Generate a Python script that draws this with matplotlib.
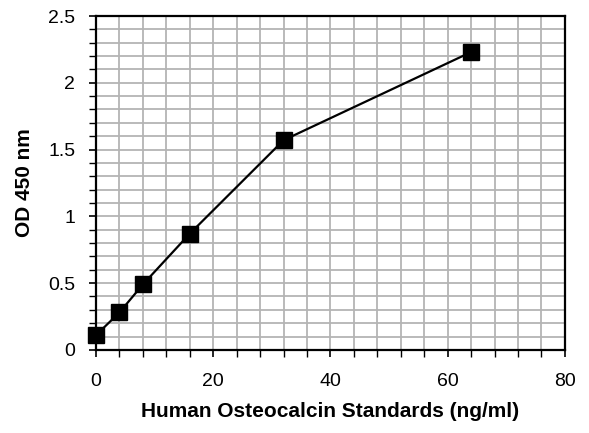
import matplotlib
matplotlib.use("Agg")
import matplotlib.pyplot as plt
from matplotlib.ticker import MultipleLocator, FuncFormatter

conc = [0, 4, 8, 16, 32, 64]
od = [0.11, 0.28, 0.49, 0.87, 1.57, 2.23]

plt.rcParams['font.family'] = ['Liberation Sans', 'DejaVu Sans']
fig = plt.figure(figsize=(5.89, 4.33), dpi=100)
ax = fig.add_axes([0.163, 0.192, 0.796, 0.771])

ax.plot(conc, od, color='black', lw=1.6, marker='s', markersize=11, clip_on=False, zorder=5)
ax.set_xlim(0, 80)
ax.set_ylim(0, 2.5)
ax.xaxis.set_major_locator(MultipleLocator(20))
ax.xaxis.set_minor_locator(MultipleLocator(4))
ax.yaxis.set_major_locator(MultipleLocator(0.5))
ax.yaxis.set_minor_locator(MultipleLocator(0.1))
ax.yaxis.set_major_formatter(FuncFormatter(lambda v, p: f"{v:g}"))
ax.grid(which='both', color='#b4b4b4', lw=1.3)
ax.set_axisbelow(True)
for s in ax.spines.values():
    s.set_linewidth(1.6)
ax.tick_params(which='major', direction='out', length=5, width=1.2, labelsize=14)
ax.tick_params(which='minor', direction='out', length=5, width=1.0)
ax.tick_params(axis='x', which='major', pad=12)
ax.tick_params(axis='y', which='major', pad=10)
ax.set_xlabel('Human Osteocalcin Standards (ng/ml)', fontsize=15, fontweight='bold', labelpad=8)
ax.set_ylabel('OD 450 nm', fontsize=15, fontweight='bold', labelpad=10)
fig.savefig('out.png', dpi=100)
